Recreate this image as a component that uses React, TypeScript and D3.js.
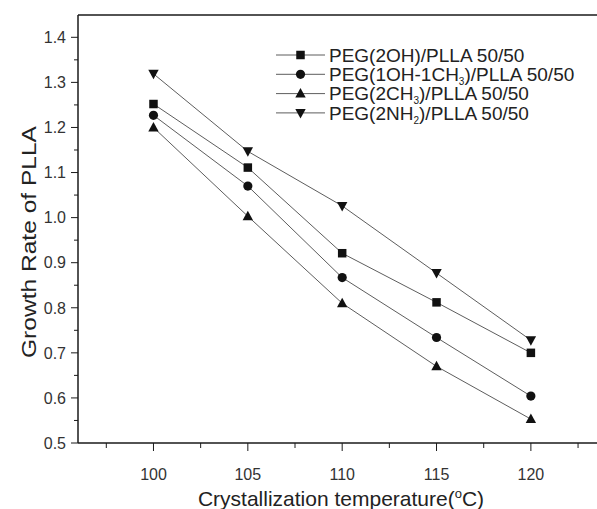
import React, { useEffect, useRef } from "react";
import * as d3 from "d3";

// crystallization temperatures (°C)
const temps = [100, 105, 110, 115, 120];

// growth rate series
const peg2OH = [1.252, 1.111, 0.921, 0.812, 0.7];
const peg1OH1CH3 = [1.227, 1.07, 0.867, 0.734, 0.604];
const peg2CH3 = [1.2, 1.003, 0.81, 0.67, 0.553];
const peg2NH2 = [1.319, 1.147, 1.026, 0.877, 0.728];

const seriesNames = [
  ["PEG(2OH)/PLLA 50/50", "", ""],
  ["PEG(1OH-1CH", "3", ")/PLLA 50/50"],
  ["PEG(2CH", "3", ")/PLLA 50/50"],
  ["PEG(2NH", "2", ")/PLLA 50/50"],
];
const seriesSymbols = ["square", "circle", "up", "down"];

const yTicks = [0.5, 0.6, 0.7, 0.8, 0.9, 1.0, 1.1, 1.2, 1.3, 1.4];
const xTicks = [100, 105, 110, 115, 120];

const width = 597,
  height = 509;

function drawSymbol(g, kind, x, y) {
  if (kind === "square") {
    g.append("rect")
      .attr("x", x - 4.25)
      .attr("y", y - 4.25)
      .attr("width", 8.5)
      .attr("height", 8.5)
      .attr("fill", "#111");
  } else if (kind === "circle") {
    g.append("circle").attr("cx", x).attr("cy", y).attr("r", 4.6).attr("fill", "#111");
  } else if (kind === "up") {
    g.append("path")
      .attr("d", `M${x},${y - 5.5}L${x + 5.2},${y + 4}L${x - 5.2},${y + 4}Z`)
      .attr("fill", "#111");
  } else {
    g.append("path")
      .attr("d", `M${x},${y + 5.5}L${x + 5.2},${y - 4}L${x - 5.2},${y - 4}Z`)
      .attr("fill", "#111");
  }
}

export default function App() {
  const ref = useRef(null);

  useEffect(() => {
    document.body.style.margin = "0";
    const svg = d3.select(ref.current);
    svg.selectAll("*").remove();

    const left = 78,
      top = 15,
      bottom = 443;

    const x = d3.scaleLinear().domain([96, 123.6]).range([left, left + 27.6 * 18.87]);
    const y = d3.scaleLinear().domain([0.5, 1.4]).range([bottom, 37.3]);

    const font = "Liberation Sans, Arial, sans-serif";
    const axisColor = "#1a1a1a";

    // frame: left, bottom, top
    svg.append("line").attr("x1", left).attr("x2", left).attr("y1", top).attr("y2", bottom)
      .attr("stroke", axisColor).attr("stroke-width", 1.5);
    svg.append("line").attr("x1", left).attr("x2", width).attr("y1", bottom).attr("y2", bottom)
      .attr("stroke", axisColor).attr("stroke-width", 1.5);
    svg.append("line").attr("x1", left).attr("x2", width).attr("y1", top).attr("y2", top)
      .attr("stroke", axisColor).attr("stroke-width", 1.5);

    // y ticks
    yTicks.forEach(t => {
      svg.append("line").attr("x1", left - 7).attr("x2", left).attr("y1", y(t)).attr("y2", y(t))
        .attr("stroke", axisColor).attr("stroke-width", 1);
      svg.append("text").attr("x", left - 12).attr("y", y(t)).attr("dy", "0.36em")
        .attr("text-anchor", "end").attr("font-family", font).attr("font-size", 16)
        .attr("fill", "#333").text(t.toFixed(1));
    });
    d3.range(0.55, 1.45, 0.1).forEach(t => {
      svg.append("line").attr("x1", left - 4).attr("x2", left).attr("y1", y(t)).attr("y2", y(t))
        .attr("stroke", axisColor).attr("stroke-width", 1);
    });

    // x ticks
    xTicks.forEach(t => {
      svg.append("line").attr("x1", x(t)).attr("x2", x(t)).attr("y1", bottom).attr("y2", bottom + 8)
        .attr("stroke", axisColor).attr("stroke-width", 1);
      svg.append("text").attr("x", x(t)).attr("y", bottom + 37)
        .attr("text-anchor", "middle").attr("font-family", font).attr("font-size", 16)
        .attr("fill", "#333").text(t);
    });
    [97.5, 102.5, 107.5, 112.5, 117.5, 122.5].forEach(t => {
      svg.append("line").attr("x1", x(t)).attr("x2", x(t)).attr("y1", bottom).attr("y2", bottom + 5)
        .attr("stroke", axisColor).attr("stroke-width", 1);
    });

    // axis titles
    const xt = svg.append("text").attr("x", 341).attr("y", 506)
      .attr("text-anchor", "middle").attr("font-family", font).attr("font-size", 21)
      .attr("fill", "#222");
    xt.append("tspan").text("Crystallization temperature(");
    xt.append("tspan").attr("font-size", 13).attr("dy", -8).text("o");
    xt.append("tspan").attr("dy", 8).text("C)");

    svg.append("text").attr("transform", "translate(36,242) rotate(-90)")
      .attr("text-anchor", "middle").attr("font-family", font).attr("font-size", 21)
      .attr("textLength", 232).attr("lengthAdjust", "spacingAndGlyphs")
      .attr("fill", "#222").text("Growth Rate of PLLA");

    // series
    const allSeries = [peg2OH, peg1OH1CH3, peg2CH3, peg2NH2];
    const line = d3.line().x(d => x(d[0])).y(d => y(d[1]));
    allSeries.forEach((vals, i) => {
      const pts = temps.map((t, j) => [t, vals[j]]);
      svg.append("path").attr("d", line(pts)).attr("fill", "none")
        .attr("stroke", "#333").attr("stroke-width", 0.8);
      const g = svg.append("g");
      pts.forEach(p => drawSymbol(g, seriesSymbols[i], x(p[0]), y(p[1])));
    });

    // legend
    seriesNames.forEach((nm, i) => {
      const ly = 55 + i * 19.3;
      svg.append("line").attr("x1", 276).attr("x2", 325).attr("y1", ly).attr("y2", ly)
        .attr("stroke", "#333").attr("stroke-width", 0.8);
      drawSymbol(svg.append("g"), seriesSymbols[i], 300.5, ly);
      const tx = svg.append("text").attr("x", 329).attr("y", ly).attr("dy", "0.36em")
        .attr("font-family", font).attr("font-size", 19).attr("fill", "#222");
      tx.append("tspan").text(nm[0]);
      if (nm[1]) {
        tx.append("tspan").attr("font-size", 10).attr("dy", 4).text(nm[1]);
        tx.append("tspan").attr("dy", -4).text(nm[2]);
      }
    });
  }, []);

  return (
    <div style={{ position: "absolute", left: 0, top: 0 }}>
      <svg ref={ref} width={width} height={height} style={{ display: "block", background: "#fff" }} />
    </div>
  );
}
